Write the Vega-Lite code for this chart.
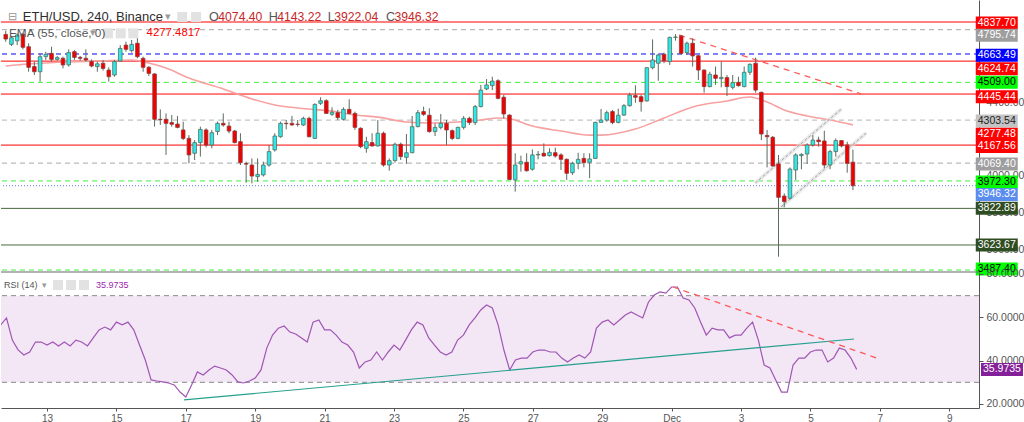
{
"$schema":"https://vega.github.io/schema/vega-lite/v6.json",
"padding":0,
"background":"#ffffff",
"bounds":"flush",
"spacing":2,
"config":{"view":{"stroke":null},"font":"Liberation Sans","text":{"font":"Liberation Sans"},
 "axis":{"grid":false,"domainColor":"#555555","tickColor":"#555555","labelColor":"#555555","labelFont":"Liberation Sans","labelFontSize":10.5}},
"resolve":{"scale":{"x":"independent","y":"independent","color":"independent","fill":"independent","stroke":"independent","strokeDash":"independent","size":"independent"}},
"datasets":{
"candles":[
{"t":"2021-11-11T16:00:00Z","o":4770,"h":4790,"l":4730,"c":4745,"r":56.5},
{"t":"2021-11-11T20:00:00Z","o":4716,"h":4761,"l":4707,"c":4752,"r":59.7},
{"t":"2021-11-12T00:00:00Z","o":4735,"h":4776,"l":4712,"c":4767,"r":49.5},
{"t":"2021-11-12T04:00:00Z","o":4772,"h":4776,"l":4689,"c":4700,"r":45},
{"t":"2021-11-12T08:00:00Z","o":4703,"h":4722,"l":4567,"c":4591,"r":42.6},
{"t":"2021-11-12T12:00:00Z","o":4595,"h":4622,"l":4549,"c":4567,"r":44},
{"t":"2021-11-12T16:00:00Z","o":4567,"h":4667,"l":4513,"c":4649,"r":48.6},
{"t":"2021-11-12T20:00:00Z","o":4649,"h":4676,"l":4631,"c":4662,"r":48.6},
{"t":"2021-11-13T00:00:00Z","o":4667,"h":4703,"l":4622,"c":4634,"r":47.2},
{"t":"2021-11-13T04:00:00Z","o":4634,"h":4653,"l":4627,"c":4644,"r":48.6},
{"t":"2021-11-13T08:00:00Z","o":4640,"h":4649,"l":4585,"c":4604,"r":46.8},
{"t":"2021-11-13T12:00:00Z","o":4604,"h":4689,"l":4595,"c":4671,"r":48.6},
{"t":"2021-11-13T16:00:00Z","o":4676,"h":4685,"l":4631,"c":4645,"r":46.8},
{"t":"2021-11-13T20:00:00Z","o":4645,"h":4653,"l":4627,"c":4640,"r":49.5},
{"t":"2021-11-14T00:00:00Z","o":4640,"h":4689,"l":4622,"c":4631,"r":48.6},
{"t":"2021-11-14T04:00:00Z","o":4622,"h":4634,"l":4591,"c":4598,"r":46.8},
{"t":"2021-11-14T08:00:00Z","o":4595,"h":4622,"l":4567,"c":4610,"r":50.5},
{"t":"2021-11-14T12:00:00Z","o":4613,"h":4631,"l":4573,"c":4585,"r":54.2},
{"t":"2021-11-14T16:00:00Z","o":4576,"h":4591,"l":4513,"c":4540,"r":55.5},
{"t":"2021-11-14T20:00:00Z","o":4549,"h":4631,"l":4540,"c":4622,"r":54.2},
{"t":"2021-11-15T00:00:00Z","o":4625,"h":4712,"l":4622,"c":4694,"r":57.8},
{"t":"2021-11-15T04:00:00Z","o":4712,"h":4731,"l":4676,"c":4689,"r":56.5},
{"t":"2021-11-15T08:00:00Z","o":4682,"h":4740,"l":4671,"c":4716,"r":57.8},
{"t":"2021-11-15T12:00:00Z","o":4722,"h":4767,"l":4640,"c":4649,"r":54.2},
{"t":"2021-11-15T16:00:00Z","o":4640,"h":4649,"l":4567,"c":4591,"r":47.2},
{"t":"2021-11-15T20:00:00Z","o":4591,"h":4598,"l":4544,"c":4558,"r":40.3},
{"t":"2021-11-16T00:00:00Z","o":4555,"h":4558,"l":4268,"c":4308,"r":31.1},
{"t":"2021-11-16T04:00:00Z","o":4308,"h":4362,"l":4277,"c":4306,"r":30.6},
{"t":"2021-11-16T08:00:00Z","o":4308,"h":4340,"l":4114,"c":4286,"r":30.2},
{"t":"2021-11-16T12:00:00Z","o":4290,"h":4331,"l":4268,"c":4281,"r":29.7},
{"t":"2021-11-16T16:00:00Z","o":4282,"h":4326,"l":4259,"c":4264,"r":28.8},
{"t":"2021-11-16T20:00:00Z","o":4250,"h":4295,"l":4195,"c":4204,"r":25.5},
{"t":"2021-11-17T00:00:00Z","o":4204,"h":4222,"l":4068,"c":4114,"r":23.2},
{"t":"2021-11-17T04:00:00Z","o":4123,"h":4195,"l":4086,"c":4181,"r":28.8},
{"t":"2021-11-17T08:00:00Z","o":4181,"h":4268,"l":4105,"c":4253,"r":34.8},
{"t":"2021-11-17T12:00:00Z","o":4250,"h":4259,"l":4155,"c":4168,"r":33.4},
{"t":"2021-11-17T16:00:00Z","o":4168,"h":4250,"l":4150,"c":4235,"r":35.7},
{"t":"2021-11-17T20:00:00Z","o":4241,"h":4295,"l":4222,"c":4286,"r":37.5},
{"t":"2021-11-18T00:00:00Z","o":4286,"h":4340,"l":4268,"c":4277,"r":36.6},
{"t":"2021-11-18T04:00:00Z","o":4271,"h":4295,"l":4232,"c":4244,"r":35.7},
{"t":"2021-11-18T08:00:00Z","o":4244,"h":4250,"l":4177,"c":4181,"r":33.4},
{"t":"2021-11-18T12:00:00Z","o":4186,"h":4232,"l":4059,"c":4072,"r":30.2},
{"t":"2021-11-18T16:00:00Z","o":4067,"h":4077,"l":3963,"c":4064,"r":29.7},
{"t":"2021-11-18T20:00:00Z","o":4059,"h":4095,"l":3959,"c":3999,"r":30.6},
{"t":"2021-11-19T00:00:00Z","o":3996,"h":4095,"l":3968,"c":4008,"r":32},
{"t":"2021-11-19T04:00:00Z","o":4005,"h":4077,"l":3996,"c":4059,"r":35.7},
{"t":"2021-11-19T08:00:00Z","o":4059,"h":4168,"l":4050,"c":4132,"r":45.8},
{"t":"2021-11-19T12:00:00Z","o":4141,"h":4232,"l":4132,"c":4217,"r":51.8},
{"t":"2021-11-19T16:00:00Z","o":4213,"h":4295,"l":4208,"c":4286,"r":55},
{"t":"2021-11-19T20:00:00Z","o":4286,"h":4304,"l":4253,"c":4284,"r":56},
{"t":"2021-11-20T00:00:00Z","o":4286,"h":4326,"l":4273,"c":4277,"r":53.2},
{"t":"2021-11-20T04:00:00Z","o":4281,"h":4304,"l":4268,"c":4280,"r":52.3},
{"t":"2021-11-20T08:00:00Z","o":4277,"h":4322,"l":4271,"c":4313,"r":50.5},
{"t":"2021-11-20T12:00:00Z","o":4313,"h":4322,"l":4210,"c":4213,"r":48.6},
{"t":"2021-11-20T16:00:00Z","o":4204,"h":4395,"l":4201,"c":4389,"r":57.8},
{"t":"2021-11-20T20:00:00Z","o":4395,"h":4428,"l":4386,"c":4409,"r":58.8},
{"t":"2021-11-21T00:00:00Z","o":4409,"h":4417,"l":4337,"c":4340,"r":54.2},
{"t":"2021-11-21T04:00:00Z","o":4335,"h":4373,"l":4326,"c":4346,"r":54.2},
{"t":"2021-11-21T08:00:00Z","o":4344,"h":4359,"l":4304,"c":4317,"r":51.8},
{"t":"2021-11-21T12:00:00Z","o":4308,"h":4373,"l":4301,"c":4362,"r":48.6},
{"t":"2021-11-21T16:00:00Z","o":4362,"h":4417,"l":4335,"c":4340,"r":47.2},
{"t":"2021-11-21T20:00:00Z","o":4340,"h":4350,"l":4250,"c":4264,"r":44},
{"t":"2021-11-22T00:00:00Z","o":4259,"h":4264,"l":4150,"c":4159,"r":36.6},
{"t":"2021-11-22T04:00:00Z","o":4150,"h":4213,"l":4126,"c":4186,"r":39.4},
{"t":"2021-11-22T08:00:00Z","o":4181,"h":4232,"l":4159,"c":4163,"r":40.3},
{"t":"2021-11-22T12:00:00Z","o":4163,"h":4304,"l":4159,"c":4232,"r":44},
{"t":"2021-11-22T16:00:00Z","o":4232,"h":4241,"l":4050,"c":4059,"r":40.3},
{"t":"2021-11-22T20:00:00Z","o":4059,"h":4095,"l":4028,"c":4083,"r":44},
{"t":"2021-11-23T00:00:00Z","o":4083,"h":4181,"l":4072,"c":4172,"r":47.2},
{"t":"2021-11-23T04:00:00Z","o":4172,"h":4181,"l":4086,"c":4105,"r":44.9},
{"t":"2021-11-23T08:00:00Z","o":4101,"h":4228,"l":4065,"c":4126,"r":49.5},
{"t":"2021-11-23T12:00:00Z","o":4126,"h":4326,"l":4123,"c":4268,"r":54.2},
{"t":"2021-11-23T16:00:00Z","o":4268,"h":4359,"l":4264,"c":4344,"r":57.8},
{"t":"2021-11-23T20:00:00Z","o":4350,"h":4377,"l":4326,"c":4335,"r":56.5},
{"t":"2021-11-24T00:00:00Z","o":4330,"h":4368,"l":4235,"c":4241,"r":50.5},
{"t":"2021-11-24T04:00:00Z","o":4241,"h":4286,"l":4217,"c":4264,"r":47.2},
{"t":"2021-11-24T08:00:00Z","o":4264,"h":4337,"l":4253,"c":4286,"r":44},
{"t":"2021-11-24T12:00:00Z","o":4286,"h":4304,"l":4168,"c":4250,"r":42.6},
{"t":"2021-11-24T16:00:00Z","o":4246,"h":4253,"l":4195,"c":4204,"r":44},
{"t":"2021-11-24T20:00:00Z","o":4204,"h":4268,"l":4199,"c":4264,"r":49.5},
{"t":"2021-11-25T00:00:00Z","o":4264,"h":4326,"l":4253,"c":4313,"r":51.8},
{"t":"2021-11-25T04:00:00Z","o":4313,"h":4322,"l":4277,"c":4290,"r":56.5},
{"t":"2021-11-25T08:00:00Z","o":4290,"h":4386,"l":4277,"c":4377,"r":59.7},
{"t":"2021-11-25T12:00:00Z","o":4377,"h":4495,"l":4373,"c":4467,"r":63.4},
{"t":"2021-11-25T16:00:00Z","o":4473,"h":4527,"l":4467,"c":4495,"r":65.7},
{"t":"2021-11-25T20:00:00Z","o":4491,"h":4540,"l":4467,"c":4516,"r":64.3},
{"t":"2021-11-26T00:00:00Z","o":4518,"h":4526,"l":4417,"c":4422,"r":56.5},
{"t":"2021-11-26T04:00:00Z","o":4428,"h":4440,"l":4313,"c":4337,"r":44.9},
{"t":"2021-11-26T08:00:00Z","o":4331,"h":4335,"l":3978,"c":3980,"r":35.7},
{"t":"2021-11-26T12:00:00Z","o":3978,"h":4123,"l":3914,"c":4059,"r":40.3},
{"t":"2021-11-26T16:00:00Z","o":4065,"h":4110,"l":4023,"c":4077,"r":41.2},
{"t":"2021-11-26T20:00:00Z","o":4074,"h":4123,"l":4023,"c":4028,"r":41.2},
{"t":"2021-11-27T00:00:00Z","o":4036,"h":4144,"l":4028,"c":4114,"r":44},
{"t":"2021-11-27T04:00:00Z","o":4114,"h":4135,"l":4090,"c":4117,"r":44.9},
{"t":"2021-11-27T08:00:00Z","o":4123,"h":4177,"l":4105,"c":4108,"r":44.9},
{"t":"2021-11-27T12:00:00Z","o":4110,"h":4150,"l":4105,"c":4128,"r":44},
{"t":"2021-11-27T16:00:00Z","o":4126,"h":4154,"l":4099,"c":4108,"r":44},
{"t":"2021-11-27T20:00:00Z","o":4114,"h":4123,"l":4032,"c":4090,"r":41.2},
{"t":"2021-11-28T00:00:00Z","o":4090,"h":4095,"l":3978,"c":4014,"r":39.4},
{"t":"2021-11-28T04:00:00Z","o":4017,"h":4077,"l":4005,"c":4068,"r":41.2},
{"t":"2021-11-28T08:00:00Z","o":4068,"h":4126,"l":4036,"c":4090,"r":42.6},
{"t":"2021-11-28T12:00:00Z","o":4095,"h":4123,"l":4046,"c":4072,"r":41.2},
{"t":"2021-11-28T16:00:00Z","o":4074,"h":4123,"l":3987,"c":4092,"r":44},
{"t":"2021-11-28T20:00:00Z","o":4095,"h":4295,"l":4092,"c":4291,"r":55},
{"t":"2021-11-29T00:00:00Z","o":4291,"h":4364,"l":4290,"c":4304,"r":57.8},
{"t":"2021-11-29T04:00:00Z","o":4304,"h":4355,"l":4295,"c":4344,"r":58.8},
{"t":"2021-11-29T08:00:00Z","o":4350,"h":4359,"l":4281,"c":4290,"r":56.5},
{"t":"2021-11-29T12:00:00Z","o":4291,"h":4366,"l":4286,"c":4330,"r":58.8},
{"t":"2021-11-29T16:00:00Z","o":4331,"h":4391,"l":4326,"c":4382,"r":61.1},
{"t":"2021-11-29T20:00:00Z","o":4382,"h":4453,"l":4377,"c":4440,"r":62.5},
{"t":"2021-11-30T00:00:00Z","o":4437,"h":4493,"l":4398,"c":4428,"r":61.1},
{"t":"2021-11-30T04:00:00Z","o":4431,"h":4440,"l":4350,"c":4404,"r":59.7},
{"t":"2021-11-30T08:00:00Z","o":4408,"h":4591,"l":4404,"c":4589,"r":67.1},
{"t":"2021-11-30T12:00:00Z","o":4589,"h":4743,"l":4580,"c":4631,"r":70.3},
{"t":"2021-11-30T16:00:00Z","o":4613,"h":4667,"l":4518,"c":4658,"r":71.7},
{"t":"2021-11-30T20:00:00Z","o":4662,"h":4671,"l":4613,"c":4627,"r":71.2},
{"t":"2021-12-01T00:00:00Z","o":4622,"h":4758,"l":4604,"c":4754,"r":74},
{"t":"2021-12-01T04:00:00Z","o":4754,"h":4772,"l":4736,"c":4756,"r":74},
{"t":"2021-12-01T08:00:00Z","o":4761,"h":4767,"l":4658,"c":4667,"r":68.9},
{"t":"2021-12-01T12:00:00Z","o":4671,"h":4731,"l":4658,"c":4722,"r":68},
{"t":"2021-12-01T16:00:00Z","o":4722,"h":4749,"l":4595,"c":4653,"r":64.3},
{"t":"2021-12-01T20:00:00Z","o":4654,"h":4658,"l":4522,"c":4576,"r":57.8},
{"t":"2021-12-02T00:00:00Z","o":4576,"h":4580,"l":4453,"c":4486,"r":51.8},
{"t":"2021-12-02T04:00:00Z","o":4486,"h":4567,"l":4482,"c":4553,"r":55},
{"t":"2021-12-02T08:00:00Z","o":4549,"h":4595,"l":4495,"c":4531,"r":54.2},
{"t":"2021-12-02T12:00:00Z","o":4529,"h":4622,"l":4482,"c":4536,"r":54.2},
{"t":"2021-12-02T16:00:00Z","o":4535,"h":4549,"l":4435,"c":4486,"r":50.5},
{"t":"2021-12-02T20:00:00Z","o":4482,"h":4549,"l":4471,"c":4507,"r":51.8},
{"t":"2021-12-03T00:00:00Z","o":4509,"h":4540,"l":4486,"c":4491,"r":51.8},
{"t":"2021-12-03T04:00:00Z","o":4486,"h":4595,"l":4482,"c":4564,"r":55},
{"t":"2021-12-03T08:00:00Z","o":4564,"h":4613,"l":4549,"c":4607,"r":57.8},
{"t":"2021-12-03T12:00:00Z","o":4613,"h":4644,"l":4453,"c":4467,"r":49.5},
{"t":"2021-12-03T16:00:00Z","o":4455,"h":4458,"l":4195,"c":4228,"r":38},
{"t":"2021-12-03T20:00:00Z","o":4220,"h":4250,"l":4046,"c":4213,"r":36.6},
{"t":"2021-12-04T00:00:00Z","o":4210,"h":4217,"l":4050,"c":4054,"r":31.1},
{"t":"2021-12-04T04:00:00Z","o":4065,"h":4114,"l":3560,"c":3883,"r":25.5},
{"t":"2021-12-04T08:00:00Z","o":3890,"h":3905,"l":3829,"c":3860,"r":25.5},
{"t":"2021-12-04T12:00:00Z","o":3878,"h":4046,"l":3872,"c":4037,"r":38},
{"t":"2021-12-04T16:00:00Z","o":4032,"h":4123,"l":3978,"c":4114,"r":41.2},
{"t":"2021-12-04T20:00:00Z","o":4110,"h":4123,"l":4036,"c":4117,"r":41.2},
{"t":"2021-12-05T00:00:00Z","o":4119,"h":4177,"l":4065,"c":4168,"r":44},
{"t":"2021-12-05T04:00:00Z","o":4168,"h":4222,"l":4159,"c":4195,"r":44.9},
{"t":"2021-12-05T08:00:00Z","o":4195,"h":4213,"l":4159,"c":4186,"r":44.9},
{"t":"2021-12-05T12:00:00Z","o":4190,"h":4246,"l":4041,"c":4059,"r":39.4},
{"t":"2021-12-05T16:00:00Z","o":4059,"h":4141,"l":4036,"c":4132,"r":41.2},
{"t":"2021-12-05T20:00:00Z","o":4132,"h":4204,"l":4105,"c":4192,"r":45.8},
{"t":"2021-12-06T00:00:00Z","o":4192,"h":4195,"l":4155,"c":4163,"r":44.9},
{"t":"2021-12-06T04:00:00Z","o":4168,"h":4186,"l":4017,"c":4068,"r":41.2},
{"t":"2021-12-06T08:00:00Z","o":4074.40,"h":4143.22,"l":3922.04,"c":3946.32,"r":35.9735}
],
"ema":[
{"t":"2021-11-11T16:00:00Z","v":4598},{"t":"2021-11-12T08:00:00Z","v":4609},{"t":"2021-11-13T08:00:00Z","v":4620},{"t":"2021-11-14T08:00:00Z","v":4625},{"t":"2021-11-15T08:00:00Z","v":4631},{"t":"2021-11-15T20:00:00Z","v":4614},{"t":"2021-11-16T08:00:00Z","v":4587},{"t":"2021-11-17T00:00:00Z","v":4533},{"t":"2021-11-18T00:00:00Z","v":4473},{"t":"2021-11-18T20:00:00Z","v":4419},{"t":"2021-11-19T16:00:00Z","v":4380},{"t":"2021-11-20T12:00:00Z","v":4364},{"t":"2021-11-21T08:00:00Z","v":4348},{"t":"2021-11-21T20:00:00Z","v":4331},{"t":"2021-11-22T12:00:00Z","v":4320},{"t":"2021-11-23T08:00:00Z","v":4293},{"t":"2021-11-24T00:00:00Z","v":4288},{"t":"2021-11-24T20:00:00Z","v":4293},{"t":"2021-11-25T12:00:00Z","v":4304},{"t":"2021-11-26T00:00:00Z","v":4315},{"t":"2021-11-26T08:00:00Z","v":4311},{"t":"2021-11-27T00:00:00Z","v":4271},{"t":"2021-11-27T20:00:00Z","v":4244},{"t":"2021-11-28T16:00:00Z","v":4222},{"t":"2021-11-29T00:00:00Z","v":4222},{"t":"2021-11-30T00:00:00Z","v":4255},{"t":"2021-11-30T20:00:00Z","v":4315},{"t":"2021-12-01T16:00:00Z","v":4375},{"t":"2021-12-02T16:00:00Z","v":4408},{"t":"2021-12-03T08:00:00Z","v":4429},{"t":"2021-12-03T20:00:00Z","v":4402},{"t":"2021-12-04T08:00:00Z","v":4359},{"t":"2021-12-05T00:00:00Z","v":4326},{"t":"2021-12-05T16:00:00Z","v":4304},{"t":"2021-12-06T08:00:00Z","v":4277.48}
],
"levels":[
{"v":4837.70,"at":4832,"k":"res"},{"v":4795.74,"at":4765,"k":"gray"},{"v":4663.49,"at":4657,"k":"blue"},{"v":4624.74,"at":4583,"k":"res"},{"v":4509.00,"at":4509,"k":"green"},{"v":4445.44,"at":4431,"k":"res"},{"v":4303.54,"at":4299,"k":"lgray"},{"v":4277.48,"at":4226,"k":"ema"},{"v":4167.56,"at":4160,"k":"res"},{"v":4069.40,"at":4065,"k":"gray"},{"v":3972.30,"at":3967,"k":"green"},{"v":3946.32,"at":3899,"k":"last"},{"v":3822.89,"at":3823,"k":"dark"},{"v":3623.67,"at":3624,"k":"dark"},{"v":3487.40,"at":3493,"k":"green"}
],
"draw":[
{"id":"c1","t":"2021-12-03T11:45:00Z","v":3961},{"id":"c1","t":"2021-12-06T00:00:00Z","v":4364},
{"id":"c2","t":"2021-12-04T05:45:00Z","v":3831},{"id":"c2","t":"2021-12-06T17:15:00Z","v":4233},
{"id":"t1","t":"2021-12-01T06:30:00Z","v":4767},{"id":"t1","t":"2021-12-06T13:45:00Z","v":4446}
],
"hdr":[
{"txt":"⊟","t":"2021-11-11T17:20:00Z","v":4865,"role":"icon"},
{"txt":"ETH/USD, 240, Binance","t":"2021-11-12T03:56:00Z","v":4865,"role":"title"},
{"txt":"▾","t":"2021-11-16T07:30:00Z","v":4865,"role":"icon"},
{"txt":"O","t":"2021-11-17T13:58:00Z","v":4865,"role":"key"},
{"txt":"4074.40","t":"2021-11-17T20:32:00Z","v":4865,"role":"val"},
{"txt":"H","t":"2021-11-19T07:50:00Z","v":4865,"role":"key"},
{"txt":"4143.22","t":"2021-11-19T13:42:00Z","v":4865,"role":"val"},
{"txt":"L","t":"2021-11-21T00:58:00Z","v":4865,"role":"key"},
{"txt":"3922.04","t":"2021-11-21T05:30:00Z","v":4865,"role":"val"},
{"txt":"C","t":"2021-11-22T17:48:00Z","v":4865,"role":"key"},
{"txt":"3946.32","t":"2021-11-22T23:40:00Z","v":4865,"role":"val"},
{"txt":"EMA (55, close, 0)","t":"2021-11-11T18:16:00Z","v":4776,"role":"ind"},
{"txt":"▾","t":"2021-11-14T03:00:00Z","v":4776,"role":"icon"},
{"txt":"4277.4817","t":"2021-11-15T18:24:00Z","v":4776,"role":"emaval"}
],
"icons":[
{"t":"2021-11-16T19:18:00Z","v":4865},{"t":"2021-11-17T05:00:00Z","v":4865},
{"t":"2021-11-14T15:30:00Z","v":4776},{"t":"2021-11-15T00:20:00Z","v":4776},{"t":"2021-11-15T09:10:00Z","v":4776}
],
"rdraw":[
{"id":"g","t":"2021-11-16T22:45:00Z","v":21.9},{"id":"g","t":"2021-12-06T06:10:00Z","v":50.0},
{"id":"d","t":"2021-12-01T01:00:00Z","v":74.0},{"id":"d","t":"2021-12-06T22:00:00Z","v":41.2}
],
"rhdr":[
{"txt":"RSI (14)","t":"2021-11-11T18:16:00Z","v":74.9,"role":"ind"},
{"txt":"▾","t":"2021-11-12T20:30:00Z","v":74.9,"role":"icon"},
{"txt":"35.9735","t":"2021-11-14T09:54:00Z","v":74.9,"role":"rsival"}
],
"ricons":[
{"t":"2021-11-13T07:36:00Z","v":74.9},{"t":"2021-11-13T16:36:00Z","v":74.9},{"t":"2021-11-14T01:36:00Z","v":74.9}
]
},
"vconcat":[
{
"width":978,"height":270,
"resolve":{"scale":{"color":"independent","fill":"independent","stroke":"independent","strokeDash":"independent","size":"independent"}},
"layer":[
{"data":{"name":"levels"},"transform":[{"filter":"datum.k != 'ema'"}],
 "mark":{"type":"rule","strokeWidth":1},
 "encoding":{
  "y":{"field":"v","type":"quantitative","title":null,"scale":{"domain":[3487.4,4957.5],"nice":false,"zero":false},
       "axis":{"orient":"right","values":[3600,3800,4000,4400],"format":".2f","title":null,"grid":false,"domain":true,"ticks":true,"tickSize":4,"labelPadding":3}},
  "stroke":{"field":"k","type":"nominal","scale":{"domain":["res","gray","lgray","blue","green","dark","last"],"range":["#ff0000","#a8a8a8","#b4b4b4","#0000ff","#3ff03f","#4a6a3a","#5b7fe8"]},"legend":null},
  "strokeDash":{"field":"k","type":"nominal","scale":{"domain":["res","gray","lgray","blue","green","dark","last"],"range":[[1,0],[5,4],[5,4],[5,4],[5,4],[1,0],[1,2]]},"legend":null}
 }},
{"data":{"name":"ema"},"mark":{"type":"line","color":"#f7a1a1","strokeWidth":1.6,"interpolate":"monotone","clip":true},
 "encoding":{"x":{"field":"t","type":"temporal","scale":{"type":"utc","domain":[{"year":2021,"month":"nov","date":11,"hours":16,"minutes":11,"utc":true},{"year":2021,"month":"dec","date":9,"hours":20,"minutes":36,"utc":true}]},"axis":null},
  "y":{"field":"v","type":"quantitative","title":null}}},
{"data":{"name":"draw"},"transform":[{"filter":"datum.id != 't1'"}],"mark":{"type":"line","color":"#dcdcdc","strokeWidth":4,"opacity":0.6,"clip":true},
 "encoding":{"x":{"field":"t","type":"temporal","axis":null},"y":{"field":"v","type":"quantitative","title":null},"detail":{"field":"id"}}},
{"data":{"name":"draw"},"transform":[{"filter":"datum.id != 't1'"}],"mark":{"type":"line","color":"#a4a4a4","strokeWidth":1,"strokeDash":[3,2],"clip":true},
 "encoding":{"x":{"field":"t","type":"temporal","axis":null},"y":{"field":"v","type":"quantitative","title":null},"detail":{"field":"id"}}},
{"data":{"name":"draw"},"transform":[{"filter":"datum.id == 't1'"}],"mark":{"type":"line","color":"#ff5a5a","strokeWidth":1.3,"strokeDash":[6,5],"clip":true},
 "encoding":{"x":{"field":"t","type":"temporal","axis":null},"y":{"field":"v","type":"quantitative","title":null}}},
{"data":{"name":"candles"},"mark":{"type":"rule","color":"#5a6b5e","strokeWidth":1,"clip":true},
 "encoding":{"x":{"field":"t","type":"temporal","axis":null},"y":{"field":"l","type":"quantitative","title":null},"y2":{"field":"h"}}},
{"data":{"name":"candles"},"mark":{"type":"bar","width":3.6,"strokeWidth":0.8,"clip":true},
 "encoding":{"x":{"field":"t","type":"temporal","axis":null},"y":{"field":"o","type":"quantitative","title":null},"y2":{"field":"c"},
  "fill":{"condition":{"test":"datum.c < datum.o","value":"#f20000"},"value":"#2ee8e8"},
  "stroke":{"condition":{"test":"datum.c < datum.o","value":"#8a3a3a"},"value":"#4f7060"}}},
{"data":{"name":"levels"},"mark":{"type":"tick","orient":"horizontal","thickness":13,"size":42,"opacity":1,"clip":false},
 "encoding":{"x":{"datum":{"year":2021,"month":"dec","date":10,"hours":12,"minutes":30,"utc":true},"type":"temporal","axis":null},
  "y":{"field":"at","type":"quantitative","title":null},
  "fill":{"field":"k","type":"nominal","scale":{"domain":["res","gray","lgray","blue","green","dark","last","ema"],"range":["#ff0000","#9e9e9e","#c4c4c4","#0000ff","#00ff00","#2f4d22","#5b8def","#ff0000"]},"legend":null}}},
{"data":{"name":"levels"},"mark":{"type":"text","fontSize":10.5,"align":"center","baseline":"middle","clip":false},
 "encoding":{"x":{"datum":{"year":2021,"month":"dec","date":10,"hours":12,"minutes":30,"utc":true},"type":"temporal","axis":null},
  "y":{"field":"at","type":"quantitative","title":null},
  "text":{"field":"v","type":"quantitative","format":".2f"},
  "color":{"field":"k","type":"nominal","scale":{"domain":["res","gray","lgray","blue","green","dark","last","ema"],"range":["#ffffff","#ffffff","#222222","#ffffff","#000000","#ffffff","#ffffff","#ffffff"]},"legend":null}}},
{"data":{"name":"icons"},"mark":{"type":"square","size":100,"filled":true,"color":"#e2e2e2","opacity":1},
 "encoding":{"x":{"field":"t","type":"temporal","axis":null},"y":{"field":"v","type":"quantitative","title":null}}},
{"data":{"name":"hdr"},"mark":{"type":"text","align":"left","baseline":"middle"},
 "encoding":{"x":{"field":"t","type":"temporal","axis":null},"y":{"field":"v","type":"quantitative","title":null},
  "text":{"field":"txt"},
  "color":{"field":"role","type":"nominal","scale":{"domain":["title","key","val","ind","emaval","icon"],"range":["#2f2f2f","#555555","#c62828","#555555","#ff0000","#9a9a9a"]},"legend":null},
  "size":{"field":"role","type":"ordinal","scale":{"domain":["title","key","val","ind","emaval","icon"],"range":[13,11,11,9,9,9]},"legend":null}}}
]
},
{
"width":978,"height":136,
"resolve":{"scale":{"color":"independent","size":"independent"}},
"layer":[
{"data":{"values":[{}]},"mark":{"type":"rect","color":"#f3e6f5"},
 "encoding":{"y":{"datum":70,"type":"quantitative","scale":{"domain":[18.15,80.92],"nice":false,"zero":false}},"y2":{"datum":30}}},
{"data":{"values":[{"r":70},{"r":30}]},"mark":{"type":"rule","color":"#8a8a8a","strokeDash":[5,4]},
 "encoding":{"y":{"field":"r","type":"quantitative","title":null}}},
{"data":{"values":[{}]},"mark":{"type":"rule","color":"#666666"},
 "encoding":{"y":{"datum":80.92,"type":"quantitative"}}},
{"data":{"name":"candles"},"mark":{"type":"line","color":"#a056b4","strokeWidth":1.2,"clip":true},
 "encoding":{"x":{"field":"t","type":"temporal","title":null,"scale":{"type":"utc","domain":[{"year":2021,"month":"nov","date":11,"hours":16,"minutes":11,"utc":true},{"year":2021,"month":"dec","date":9,"hours":20,"minutes":36,"utc":true}]},
   "axis":{"orient":"bottom","title":null,"grid":false,"values":[{"year":2021,"month":"nov","date":13,"utc":true},{"year":2021,"month":"nov","date":15,"utc":true},{"year":2021,"month":"nov","date":17,"utc":true},{"year":2021,"month":"nov","date":19,"utc":true},{"year":2021,"month":"nov","date":21,"utc":true},{"year":2021,"month":"nov","date":23,"utc":true},{"year":2021,"month":"nov","date":25,"utc":true},{"year":2021,"month":"nov","date":27,"utc":true},{"year":2021,"month":"nov","date":29,"utc":true},{"year":2021,"month":"dec","date":1,"utc":true},{"year":2021,"month":"dec","date":3,"utc":true},{"year":2021,"month":"dec","date":5,"utc":true},{"year":2021,"month":"dec","date":7,"utc":true},{"year":2021,"month":"dec","date":9,"utc":true}],
    "labelExpr":"utcdate(datum.value) == 1 ? 'Dec' : '' + utcdate(datum.value)","tickSize":3,"labelFontSize":10,"labelPadding":2}},
  "y":{"field":"r","type":"quantitative","title":null,"axis":{"orient":"right","values":[20,40,60,80],"format":".4f","title":null,"grid":false,"tickSize":4,"labelPadding":3}}}},
{"data":{"name":"rdraw"},"transform":[{"filter":"datum.id == 'g'"}],"mark":{"type":"line","color":"#26a08e","strokeWidth":1.2,"clip":true},
 "encoding":{"x":{"field":"t","type":"temporal","title":null},"y":{"field":"v","type":"quantitative","title":null}}},
{"data":{"name":"rdraw"},"transform":[{"filter":"datum.id == 'd'"}],"mark":{"type":"line","color":"#ff5a5a","strokeWidth":1.3,"strokeDash":[6,5],"clip":true},
 "encoding":{"x":{"field":"t","type":"temporal","title":null},"y":{"field":"v","type":"quantitative","title":null}}},
{"data":{"values":[{"v":35.9735}]},"mark":{"type":"tick","orient":"horizontal","thickness":13,"size":42,"opacity":1,"color":"#84209a","clip":false},
 "encoding":{"x":{"datum":{"year":2021,"month":"dec","date":10,"hours":12,"minutes":30,"utc":true},"type":"temporal"},"y":{"field":"v","type":"quantitative","title":null}}},
{"data":{"values":[{"v":35.9735}]},"mark":{"type":"text","fontSize":10.5,"align":"center","baseline":"middle","color":"#ffffff","clip":false},
 "encoding":{"x":{"datum":{"year":2021,"month":"dec","date":10,"hours":12,"minutes":30,"utc":true},"type":"temporal"},"y":{"field":"v","type":"quantitative","title":null},"text":{"field":"v","type":"quantitative","format":".4f"}}},
{"data":{"name":"ricons"},"mark":{"type":"square","size":100,"filled":true,"color":"#e2e2e2","opacity":1},
 "encoding":{"x":{"field":"t","type":"temporal","title":null},"y":{"field":"v","type":"quantitative","title":null}}},
{"data":{"name":"rhdr"},"mark":{"type":"text","align":"left","baseline":"middle"},
 "encoding":{"x":{"field":"t","type":"temporal","title":null},"y":{"field":"v","type":"quantitative","title":null},
  "text":{"field":"txt"},
  "color":{"field":"role","type":"nominal","scale":{"domain":["ind","icon","rsival"],"range":["#555555","#9a9a9a","#9c27b0"]},"legend":null},
  "size":{"field":"role","type":"ordinal","scale":{"domain":["ind","icon","rsival"],"range":[9,9,9]},"legend":null}}}
]
}
]
}
